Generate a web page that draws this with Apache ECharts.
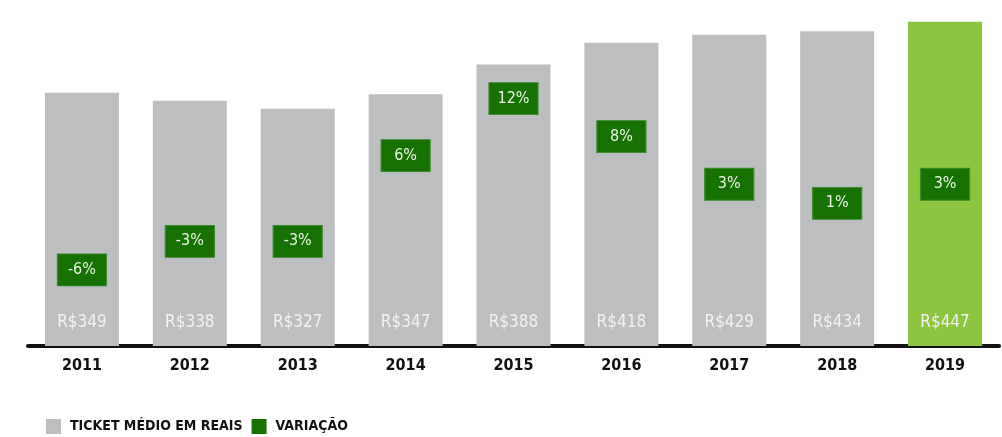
<!DOCTYPE html>
<html>
<head>
<meta charset="utf-8">
<script src="https://cdn.jsdelivr.net/npm/echarts@6/dist/echarts.min.js"></script>
<style>
  html, body { margin: 0; padding: 0; background: #fff; }
  #chart { width: 1002px; height: 437px; }
</style>
</head>
<body>
<div id="chart"></div>
<script>
const years = ['2011', '2012', '2013', '2014', '2015', '2016', '2017', '2018', '2019']
const ticket = [349, 338, 327, 347, 388, 418, 429, 434, 447]
const variacao = [-6, -3, -3, 6, 12, 8, 3, 1, 3]

const FONT = '"DejaVu Sans Condensed", "Liberation Sans Narrow", sans-serif'
const GREY = '#bdbec0'
const LIME = '#8cc63f'
const DARK = '#167100'

const chart = echarts.init(document.getElementById('chart'), null, { renderer: 'canvas' })

chart.setOption({
  animation: false,
  backgroundColor: '#fff',
  grid: { left: 28, right: 3, top: 13, bottom: 91 },
  legend: {
    left: 41,
    top: 414,
    itemWidth: 15,
    itemHeight: 15,
    itemGap: 9,
    icon: 'rect',
    textStyle: {
      fontFamily: FONT, fontWeight: 'bold', fontSize: 14, color: '#111',
      padding: [0, 0, 0, 4]
    },
    data: [
      { name: 'TICKET MÉDIO EM REAIS', itemStyle: { color: GREY, borderWidth: 0 } },
      { name: 'VARIAÇÃO', itemStyle: { color: DARK, borderWidth: 0 } }
    ]
  },
  xAxis: {
    type: 'category',
    data: years,
    axisLine: { lineStyle: { color: '#111', width: 4 } },
    axisTick: { show: false },
    axisLabel: { margin: 12, fontFamily: FONT, fontWeight: 'bold', fontSize: 16, color: '#111' }
  },
  yAxis: [
    { type: 'value', min: 0, max: 459, show: false },
    { type: 'value', min: -14, max: 21, show: false }
  ],
  series: [
    {
      name: 'TICKET MÉDIO EM REAIS',
      type: 'bar',
      data: ticket,
      barWidth: 74,
      itemStyle: {
        color: p => (p.dataIndex === ticket.length - 1 ? LIME : GREY)
      },
      label: {
        show: true,
        position: 'insideBottom',
        distance: 15,
        formatter: p => 'R$' + p.value,
        fontFamily: FONT,
        fontSize: 17,
        color: '#f2f2f2'
      }
    },
    {
      name: 'VARIAÇÃO',
      type: 'scatter',
      yAxisIndex: 1,
      data: variacao,
      symbol: 'rect',
      symbolSize: [49, 32],
      itemStyle: { color: DARK, borderColor: '#3d8a2c', borderWidth: 1, opacity: 1 },
      label: {
        show: true,
        position: 'inside',
        formatter: p => p.value + '%',
        fontFamily: FONT,
        fontSize: 16,
        color: '#eef5e6'
      },
      z: 5
    }
  ]
})
</script>
</body>
</html>
